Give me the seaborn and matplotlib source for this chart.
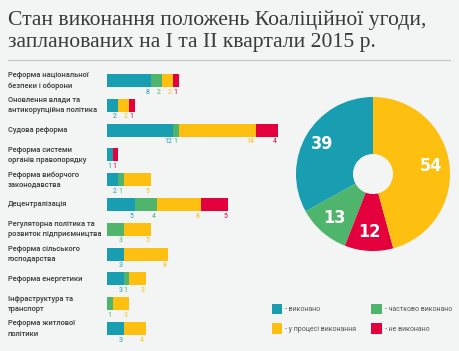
import numpy as np
import pandas as pd
import matplotlib
matplotlib.use("Agg")
import matplotlib.pyplot as plt
import matplotlib.transforms as mtransforms
from matplotlib.patches import Patch
import seaborn as sns

# Дані
categories = [
    "Реформа національної\nбезпеки і оборони",
    "Оновлення влади та\nантикорупційна політика",
    "Судова реформа",
    "Реформа системи\nорганів правопорядку",
    "Реформа виборчого\nзаконодавства",
    "Децентралізація",
    "Регуляторна політика та\nрозвиток підприємництва",
    "Реформа сільського\nгосподарства",
    "Реформа енергетики",
    "Інфраструктура та\nтранспорт",
    "Реформа житлової\nполітики",
]
done = [8, 2, 12, 1, 2, 5, 0, 3, 3, 0, 3]
partly = [2, 0, 1, 0, 1, 4, 3, 0, 1, 1, 0]
in_progress = [2, 2, 14, 0, 5, 8, 5, 8, 3, 3, 4]
not_done = [1, 1, 4, 1, 0, 5, 0, 0, 0, 0, 0]

pie_values = [39, 13, 12, 54]
pie_colors_order = ["done", "partly", "not_done", "in_progress"]

status_names = ["- виконано", "- частково виконано", "- у процесі виконання", "- не виконано"]

title = "Стан виконання положень Коаліційної угоди,\nзапланованих на I та II квартали 2015 р."

colors = {
    "done": "#189db1",
    "partly": "#4fb46c",
    "in_progress": "#fdc010",
    "not_done": "#e3003c",
}
bg = "#f3f4f4"
text_col = "#3a3a3a"

sns.set_theme(style="white")
plt.rcParams["font.family"] = ["Roboto", "DejaVu Sans"]

W, H = 460, 351
fig = plt.figure(figsize=(W / 100, H / 100), dpi=100, facecolor=bg)

# заголовок
fig.text(8 / W, 1 - 11 / H, title, ha="left", va="top", fontsize=15.6,
         family=["Liberation Serif"], color=text_col, linespacing=1.2)
fig.add_artist(plt.Line2D([8 / W, 450 / W], [1 - 60 / H, 1 - 60 / H],
                          color="#c9caca", lw=1, transform=fig.transFigure))

# стовпчики
df = pd.DataFrame({
    "category": categories,
    "done": done,
    "partly": partly,
    "in_progress": in_progress,
    "not_done": not_done,
})
series = ["done", "partly", "in_progress", "not_done"]
cum = df[series].cumsum(axis=1)

row_h = 24.8
n = len(categories)
top_px = 80.5 - row_h / 2
ax = fig.add_axes([107 / W, 1 - (top_px + n * row_h) / H, 171 / W, n * row_h / H])
ax.set_facecolor("none")

for s in reversed(series):
    sns.barplot(x=cum[s], y=df["category"], orient="h", color=colors[s],
                width=0.52, saturation=1, ax=ax, linewidth=0)

ax.set_xlim(0, 31)
ax.set_ylim(n - 0.5, -0.5)
ax.axis("off")

for i in range(n):
    c = 0
    for s in series:
        v = df.loc[i, s]
        if v > 0:
            c += v
            ax.text(c - 0.25, i + 0.47, str(v), ha="right", va="center",
                    fontsize=5, color=colors[s])

trans = mtransforms.blended_transform_factory(fig.transFigure, ax.transData)
for i, cat in enumerate(categories):
    ax.text(8 / W, i, cat, transform=trans, ha="left", va="center",
            fontsize=5.4, color=text_col, weight="medium", linespacing=1.35)

# кільцева діаграма
r = 77
cx, cy = 373, 174
pax = fig.add_axes([(cx - r) / W, 1 - (cy + r) / H, 2 * r / W, 2 * r / H])
pax.pie(pie_values, colors=[colors[k] for k in pie_colors_order],
        startangle=90, counterclock=True,
        labels=[str(v) for v in pie_values], labeldistance=0.76,
        textprops=dict(color="white", fontsize=13, family=["DejaVu Sans"],
                       stretch="condensed", weight="bold", ha="center", va="center"),
        wedgeprops=dict(width=0.74, linewidth=0))
pax.set_xlim(-1, 1)
pax.set_ylim(-1, 1)
pax.set_aspect("equal")

# легенда
handles = [Patch(facecolor=colors[s], edgecolor="none") for s in
           ["done", "in_progress", "partly", "not_done"]]
names = [status_names[0], status_names[2], status_names[1], status_names[3]]
fig.legend(handles, names, loc="upper left", bbox_to_anchor=(272 / W, 1 - 304 / H),
           ncol=2, frameon=False, fontsize=5, handlelength=1.5, handleheight=1.9,
           labelspacing=1.3, columnspacing=2.2, handletextpad=0.4,
           labelcolor="#555555", borderaxespad=0, borderpad=0)

fig.savefig("out.png", dpi=100, facecolor=bg)
